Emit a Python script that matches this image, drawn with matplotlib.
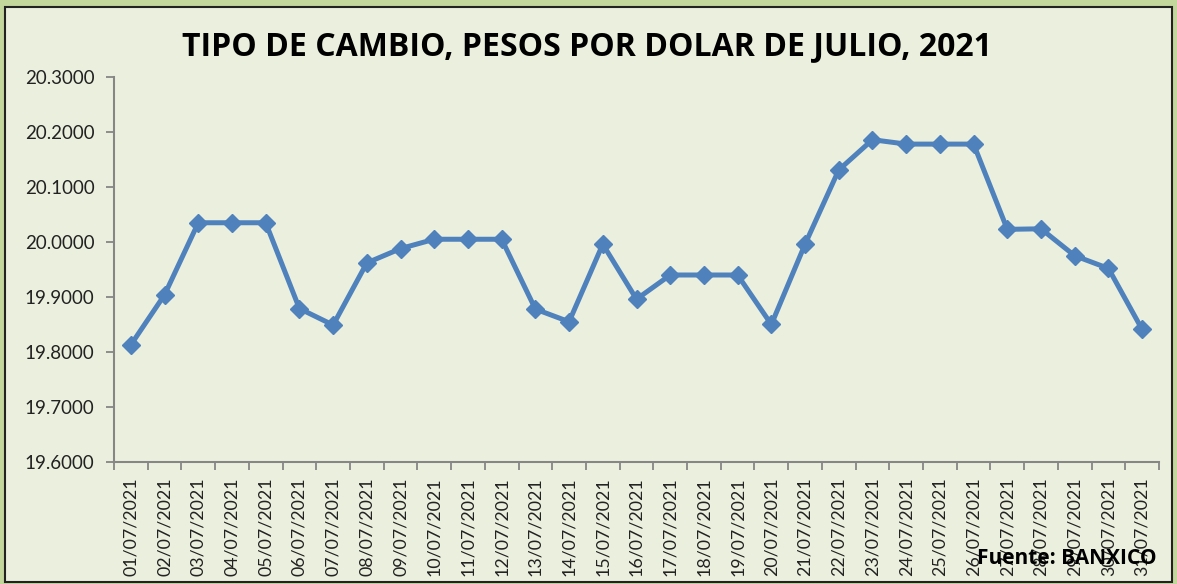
import matplotlib
matplotlib.use("Agg")
import matplotlib.pyplot as plt
from matplotlib.patches import Rectangle
from matplotlib.ticker import FixedLocator, NullFormatter, FixedFormatter

# tipo de cambio FIX, julio 2021
fechas = ["%02d/07/2021" % d for d in range(1, 32)]
tipo_cambio = [19.813, 19.904, 20.035, 20.035, 20.035, 19.879, 19.849, 19.962,
               19.988, 20.005, 20.005, 20.005, 19.878, 19.855, 19.996, 19.896,
               19.940, 19.940, 19.940, 19.850, 19.996, 20.131, 20.186, 20.178,
               20.178, 20.178, 20.023, 20.024, 19.975, 19.952, 19.841]
y_ticks = [19.6, 19.7, 19.8, 19.9, 20.0, 20.1, 20.2, 20.3]

fondo = "#EBF0DE"
azul = "#4F81BD"
gris = "#868686"

fig = plt.figure(figsize=(11.77, 5.84), dpi=100, facecolor="#C3D69B")

# marco del grafico
fig.patches.append(Rectangle((5 / 1177, 2 / 584), 1167 / 1177, 575 / 584,
                             transform=fig.transFigure, facecolor=fondo,
                             edgecolor="#222222", linewidth=1.5, zorder=-10))

ax = fig.add_axes([114 / 1177, 1 - 462 / 584, 1045 / 1177, 385 / 584])
ax.set_facecolor(fondo)

x = list(range(len(fechas)))
ax.plot(x, tipo_cambio, color=azul, linewidth=3.6, marker="D",
        markersize=9, markerfacecolor=azul, markeredgecolor=azul,
        clip_on=False, zorder=3)

ax.set_xlim(-0.5, len(fechas) - 0.5)
ax.set_ylim(19.6, 20.3)
ax.set_yticks(y_ticks)
ax.set_yticklabels(["%.4f" % v for v in y_ticks])

# ticks entre categorias, etiquetas centradas
ax.xaxis.set_major_locator(FixedLocator([i - 0.5 for i in range(len(fechas) + 1)]))
ax.xaxis.set_major_formatter(NullFormatter())
ax.xaxis.set_minor_locator(FixedLocator(x))
ax.xaxis.set_minor_formatter(FixedFormatter(fechas))
ax.tick_params(axis="x", which="minor", length=0, pad=11, labelrotation=90,
               labelsize=12.8, labelcolor="#222222")
ax.tick_params(axis="x", which="major", length=6, direction="out", color=gris, width=1.3)
ax.tick_params(axis="y", length=6, direction="out", color=gris, width=1.3,
               labelsize=13.5, labelcolor="#222222", pad=8)
for lbl in ax.xaxis.get_minorticklabels():
    lbl.set_fontfamily("Lato")
for lbl in ax.get_yticklabels():
    lbl.set_fontfamily("Lato")

for s in ["top", "right"]:
    ax.spines[s].set_visible(False)
for s in ["left", "bottom"]:
    ax.spines[s].set_color(gris)
    ax.spines[s].set_linewidth(1.5)

fig.text(587 / 1177, 1 - 47 / 584, "TIPO DE CAMBIO, PESOS POR DOLAR DE JULIO, 2021",
         ha="center", va="center", fontsize=23, fontweight="bold",
         family="Open Sans", color="black")

fig.text(1157 / 1177, 1 - 558 / 584, "Fuente: BANXICO", ha="right", va="center",
         fontsize=15, fontweight="bold", family="Open Sans", color="black",
         zorder=5)

fig.savefig("out.png", dpi=100, facecolor=fig.get_facecolor())
